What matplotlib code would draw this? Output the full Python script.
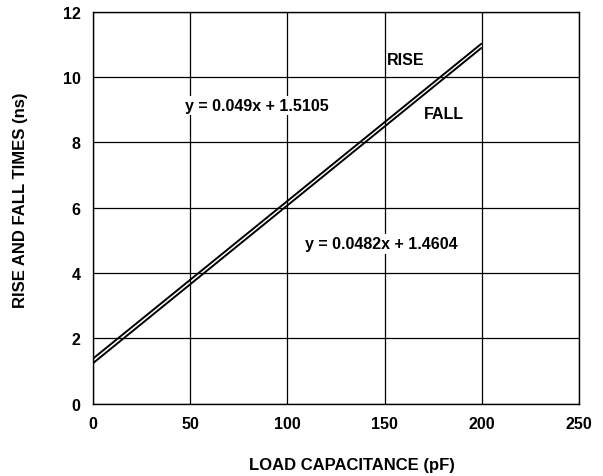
import matplotlib
matplotlib.use("Agg")
import matplotlib.pyplot as plt

cap = [0, 200]
rise = [1.38, 11.03]
fall = [1.24, 10.90]
xticks = [0, 50, 100, 150, 200, 250]
yticks = [0, 2, 4, 6, 8, 10, 12]

plt.rcParams['font.family'] = ['Liberation Sans', 'DejaVu Sans']
plt.rcParams['font.weight'] = 'bold'

fig = plt.figure(figsize=(6.03, 4.77), dpi=100)
ax = fig.add_axes([93/603, 1 - 404.7/477, (579-93)/603, (404.7-12.7)/477])

for ys in (rise, fall):
    ax.plot(cap, ys, color='black', lw=1.4, solid_capstyle='butt', zorder=3)

ax.set_xlim(0, 250)
ax.set_ylim(0, 12)
ax.set_xticks(xticks)
ax.set_yticks(yticks)
ax.grid(True, color='black', lw=0.9)
ax.set_axisbelow(True)
ax.tick_params(length=0, labelsize=11.5, pad=9)
for lab in ax.get_xticklabels() + ax.get_yticklabels():
    lab.set_fontweight('bold')
for s in ax.spines.values():
    s.set_linewidth(1.0)

ax.set_xlabel('LOAD CAPACITANCE (pF)', fontsize=12, fontweight='bold', va='center')
ax.set_ylabel('RISE AND FALL TIMES (ns)', fontsize=12, fontweight='bold', va='center')
ax.xaxis.set_label_coords(0.533, -0.156)
ax.yaxis.set_label_coords(-0.150, 0.522)

box = dict(facecolor='white', edgecolor='none', pad=1.5)
ax.text(47.3, 9.12, 'y = 0.049x + 1.5105', fontsize=11.5, fontweight='bold',
        va='center', ha='left', bbox=box, zorder=4)
ax.text(109, 4.89, 'y = 0.0482x + 1.4604', fontsize=11.5, fontweight='bold',
        va='center', ha='left', bbox=box, zorder=4)
ax.text(151.2, 10.53, 'RISE', fontsize=11.5, fontweight='bold', va='center', ha='left', zorder=4)
ax.text(170.3, 8.87, 'FALL', fontsize=11.5, fontweight='bold', va='center', ha='left', zorder=4)

fig.savefig('out.png', dpi=100)
